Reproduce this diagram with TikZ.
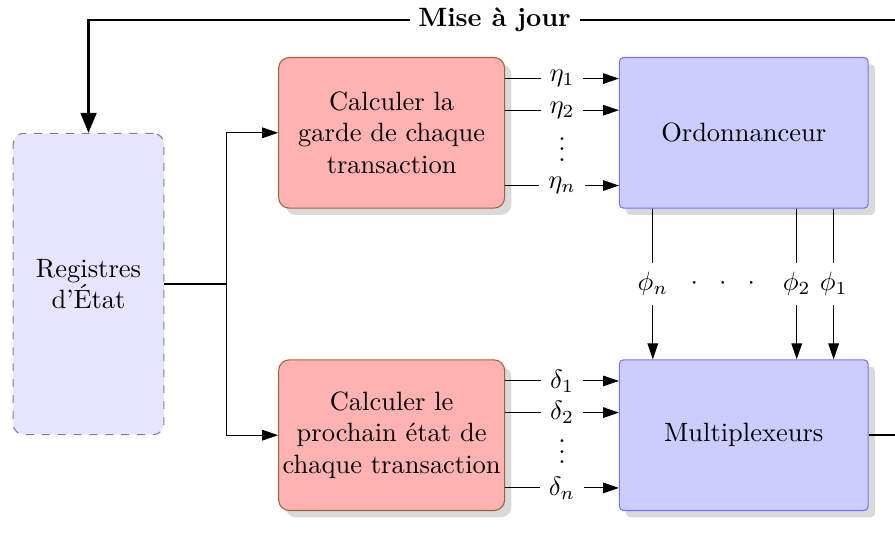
\documentclass[tikz,border=0pt]{standalone}
\usepackage{amsmath}
\usepackage{amssymb}
\usepackage{tikz}
\usetikzlibrary{arrows.meta, positioning, shadows, calc}

\begin{document}
\begin{tikzpicture}[
    node distance=1.51cm,
    regbox/.style={rectangle, rounded corners, draw=gray, dashed, fill=blue!10, minimum width=2cm, minimum height=4cm, align=center},
    calcbox/.style={rectangle, rounded corners, draw=brown!80!black, fill=red!30, inner xsep=1pt, minimum width=3cm, minimum height=2cm, align=center, drop shadow={shadow xshift=0.09cm, shadow yshift=-0.09cm, fill=black!15, opacity=1}},
    unitbox/.style={rectangle, rounded corners=1.5pt, draw=blue!55, fill=blue!20, minimum width=3.3cm, minimum height=2cm, align=center, drop shadow={shadow xshift=0.09cm, shadow yshift=-0.09cm, fill=black!15, opacity=1}},
    arrow/.style={-{Triangle[length=6pt, width=4pt]}},
    feedback/.style={-{Triangle[length=7.5pt, width=6pt]}, thick}
]
\useasboundingbox (-1.175,-3.372) rectangle (10.706,3.770);

\node[regbox] (reg) at (0,0) {Registres\\d'État};
\node[calcbox, right=of reg.north east] (garde) {Calculer la\\garde de chaque\\transaction};
\node[calcbox, right=of reg.south east] (prochain) {Calculer le\\prochain état de\\chaque transaction};
\node[unitbox, right=of garde] (ordo) {Ordonnanceur};
\node[unitbox, right=of prochain] (mux) {Multiplexeurs};
\coordinate[right=0.82cm of reg] (split);
\coordinate (corner) at (11,3.505);

\draw (reg.east) -- (split);
\draw[arrow] (split) |- (garde.west);
\draw[arrow] (split) |- (prochain.west);

% gardes et etats suivants
\foreach \dy/\lab in {0.72/\eta_1, 0.30/\eta_2, -0.70/\eta_n} {
    \draw[arrow] ([yshift=\dy cm]garde.east) -- node[fill=white] {$\lab$} ([yshift=\dy cm]ordo.west);
}
\foreach \dy/\lab in {0.72/\delta_1, 0.30/\delta_2, -0.70/\delta_n} {
    \draw[arrow] ([yshift=\dy cm]prochain.east) -- node[fill=white] {$\lab$} ([yshift=\dy cm]mux.west);
}
\node[inner sep=0pt] at ($(garde.east)!0.5!(ordo.west)+(0,-0.38)$) {$\smash{\vdots}$};
\node[inner sep=0pt] at ($(prochain.east)!0.5!(mux.west)+(0,-0.38)$) {$\smash{\vdots}$};

% selection
\foreach \dx/\lab in {0.45/\phi_n, 2.36/\phi_2, 2.85/\phi_1} {
    \draw[arrow] ([xshift=\dx cm]ordo.south west) -- node[fill=white] {$\lab$} ([xshift=\dx cm]mux.north west);
}
\node[inner sep=0pt] at ($(ordo.south west)!0.5!(mux.north west)+(1.38,0)$) {$\cdot$\hspace{8pt}$\cdot$\hspace{8pt}$\cdot$};

\draw[feedback] (mux.east) -| (corner) -| node[pos=0.255, fill=white, font=\bfseries] {Mise à jour} (reg.north);

\end{tikzpicture}
\end{document}
